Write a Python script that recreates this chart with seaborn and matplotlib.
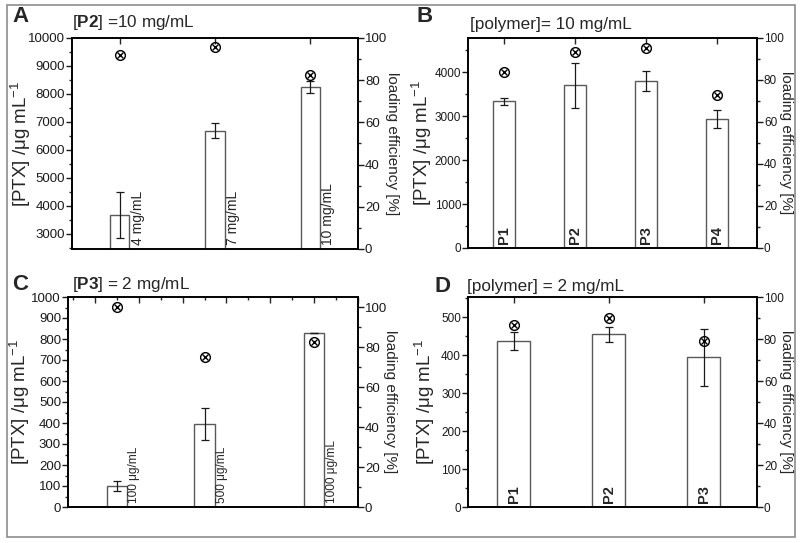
import numpy as np
import pandas as pd
import matplotlib
matplotlib.use("Agg")
import matplotlib.pyplot as plt
import seaborn as sns
from matplotlib.ticker import MultipleLocator, FixedLocator
from matplotlib.patches import Rectangle

# panel A: [P2] = 10 mg/mL, varying PTX feed (mg/mL)
a_feed = [4, 7, 10]
a_feed_labels = ["4 mg/mL", "7 mg/mL", "10 mg/mL"]
a_ptx = [3680, 6690, 8240]
a_err = [820, 270, 210]
a_le = [92, 95.5, 82.5]

# panel B: [polymer] = 10 mg/mL
b_poly = ["P1", "P2", "P3", "P4"]
b_ptx = [3340, 3700, 3800, 2930]
b_err = [85, 510, 235, 205]
b_le = [84, 93.3, 95.2, 72.7]

# panel C: [P3] = 2 mg/mL, varying PTX feed (ug/mL)
c_feed = [100, 500, 1000]
c_feed_labels = ["100 μg/mL", "500 μg/mL", "1000 μg/mL"]
c_ptx = [100, 395, 830]
c_err = [25, 75, 0]
c_le = [100, 75, 82.5]

# panel D: [polymer] = 2 mg/mL
d_poly = ["P1", "P2", "P3"]
d_ptx = [438, 455, 394]
d_err = [24, 20, 75]
d_le = [86.5, 90, 79]

sns.set_style("ticks")
plt.rcParams["font.family"] = ["Liberation Sans", "DejaVu Sans"]
plt.rcParams["mathtext.fontset"] = "custom"
plt.rcParams["mathtext.rm"] = "Liberation Sans"
plt.rcParams["mathtext.bf"] = "Liberation Sans:bold"
plt.rcParams["axes.linewidth"] = 1.2

fig = plt.figure(figsize=(8, 5.43), dpi=100)
W, H = 800, 543


def add_ax(l, t, r, b):
    return fig.add_axes([l / W, 1 - b / H, (r - l) / W, (b - t) / H])


def panel(ax, x, ptx, err, le, width, native, ylim, ymaj, ymin, rylim, xlim,
          lx, rx, tsize):
    df = pd.DataFrame({"x": x, "ptx": ptx})
    sns.barplot(data=df, x="x", y="ptx", native_scale=native, errorbar=None,
                color="white", saturation=1, width=width, edgecolor="0.35",
                linewidth=1.0, ax=ax, zorder=2)
    xs = [p.get_x() + p.get_width() / 2 for p in ax.patches]
    ax.errorbar(xs, ptx, yerr=err, fmt="none", ecolor="0.1", elinewidth=0.9,
                capsize=3, capthick=0.9, zorder=3)
    ax.set_xlim(*xlim)
    ax.set_ylim(*ylim)
    ax.yaxis.set_major_locator(FixedLocator(ymaj))
    ax.yaxis.set_minor_locator(MultipleLocator(ymin))
    ax.set_xlabel("")
    ax.set_ylabel("[PTX] /μg mL$^{-1}$", fontsize=13.5, va="center")
    ax.yaxis.set_label_coords(lx, 0.5)
    ax.tick_params(axis="x", bottom=False, labelbottom=False, top=True,
                   direction="in", length=4, width=1)
    ax.tick_params(axis="y", which="major", left=True, direction="out",
                   length=4, width=1, labelsize=tsize, pad=1, colors="0.1")
    ax.tick_params(axis="y", which="minor", left=True, direction="out",
                   length=2, width=1)
    for s in ax.spines.values():
        s.set_visible(True)
        s.set_color("black")

    ax2 = ax.twinx()
    ax2.plot(xs, le, ls="none", marker="o", ms=7, mfc="none", mec="black",
             mew=1.0, zorder=4)
    ax2.plot(xs, le, ls="none", marker="x", ms=4.8, mec="black", mew=1.0,
             zorder=4)
    ax2.set_ylim(*rylim)
    ax2.yaxis.set_major_locator(FixedLocator([0, 20, 40, 60, 80, 100]))
    ax2.yaxis.set_minor_locator(MultipleLocator(10))
    ax2.tick_params(axis="y", which="major", direction="out", length=4,
                    width=1, labelsize=tsize, pad=1, colors="0.1")
    ax2.tick_params(axis="y", which="minor", direction="out", length=2, width=1)
    ax2.set_ylabel("loading efficiency [%]", rotation=270, fontsize=11,
                   va="center")
    ax2.yaxis.set_label_coords(rx, 0.5)
    for s in ax2.spines.values():
        s.set_color("black")
    return xs, ax2


def side_labels(ax, xs, labels, halfw, size):
    for xv, lab in zip(xs, labels):
        ax.annotate(lab, xy=(xv + halfw, 0), xycoords=("data", "axes fraction"),
                    xytext=(1, 3), textcoords="offset points", rotation=90,
                    ha="left", va="bottom", fontsize=size, zorder=5)


def inner_labels(ax, xs, labels):
    for xv, lab in zip(xs, labels):
        ax.annotate(lab, xy=(xv, 0), xycoords=("data", "axes fraction"),
                    xytext=(0, 3), textcoords="offset points", rotation=90,
                    ha="center", va="bottom", fontsize=10.5, fontweight="bold",
                    zorder=5)


# A
axA = add_ax(72, 38, 358, 249)
xs, _ = panel(axA, a_feed, a_ptx, a_err, a_le, 0.2, True, (2450, 10000),
              range(3000, 10001, 1000), 500, (0, 100), (2.5, 11.5),
              -0.18, 1.12, 9.5)
axA.set_xticks(a_feed)
side_labels(axA, xs, a_feed_labels, axA.patches[0].get_width() / 2, 10)

# B
axB = add_ax(468, 38, 757, 248)
xs, _ = panel(axB, b_poly, b_ptx, b_err, b_le, 0.31, False, (0, 4780),
              range(0, 4001, 1000), 500, (0, 100), (-0.51, 3.56),
              -0.16, 1.1, 8.5)
inner_labels(axB, xs, b_poly)

# C
axC = add_ax(68, 297, 358, 507)
xs, _ = panel(axC, c_feed, c_ptx, c_err, c_le, 0.23, True, (0, 1000),
              range(0, 1001, 100), 50, (0, 105), (-123, 1200),
              -0.166, 1.11, 9.5)
axC.xaxis.set_major_locator(MultipleLocator(200))
axC.xaxis.set_minor_locator(MultipleLocator(100))
axC.tick_params(axis="x", which="minor", bottom=False, top=True,
                direction="in", length=2.5, width=1)
side_labels(axC, xs, c_feed_labels, axC.patches[0].get_width() / 2, 8.6)

# D
axD = add_ax(468, 297, 757, 507)
xs, _ = panel(axD, d_poly, d_ptx, d_err, d_le, 0.35, False, (0, 553),
              range(0, 501, 100), 50, (0, 100), (-0.48, 2.56),
              -0.15, 1.1, 8.5)
inner_labels(axD, xs, d_poly)

# panel letters and titles
for letter, lx, ly in [("A", 12, 16), ("B", 417, 16), ("C", 12, 284),
                       ("D", 434, 287)]:
    fig.text(lx / W, 1 - ly / H, letter, fontsize=16, fontweight="bold",
             ha="left", va="center")
for title, tx, ty in [("[$\\mathbf{P2}$] =10 mg/mL", 72, 23),
                      ("[polymer]= 10 mg/mL", 470, 24),
                      ("[$\\mathbf{P3}$] = 2 mg/mL", 72, 285),
                      ("[polymer] = 2 mg/mL", 467, 286)]:
    fig.text(tx / W, 1 - ty / H, title, fontsize=12.3, ha="left", va="center")

# outer frame
fig.add_artist(Rectangle((7 / W, 1 - 537 / H), 788 / W, 532 / H,
                         transform=fig.transFigure, fill=False,
                         edgecolor="0.55", linewidth=1.2))

fig.savefig("out.png", dpi=100)
